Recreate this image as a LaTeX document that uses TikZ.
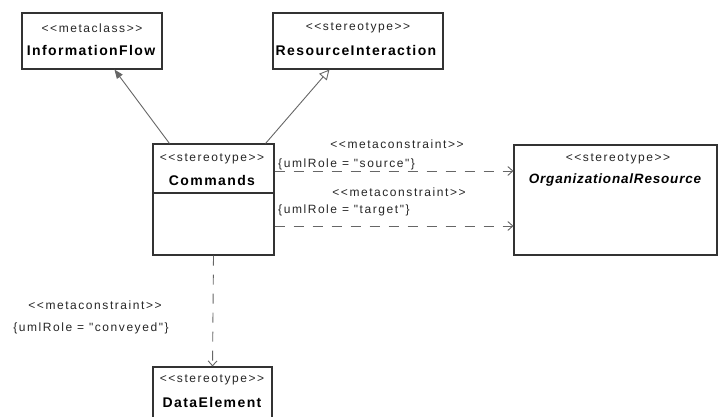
\documentclass[tikz,border=0pt]{standalone}
\usepackage{fontspec}
\setmainfont{Liberation Sans}
\newfontfamily\stfont[LetterSpace=13]{Liberation Sans}
\newfontfamily\nmfont[LetterSpace=10]{Liberation Sans}
\newfontfamily\itfont[LetterSpace=6]{Liberation Sans}
\usetikzlibrary{arrows.meta,calc}
\definecolor{boxline}{HTML}{333333}
\definecolor{conn}{HTML}{666666}
\tikzset{
  umlbox/.style={draw=boxline, line width=1.1pt, fill=white, inner sep=0pt},
  stlabel/.style={font=\stfont\fontsize{12}{13}\selectfont, inner sep=0pt, text=black!85},
  nmlabel/.style={font=\nmfont\bfseries\fontsize{14}{15}\selectfont, inner sep=0pt},
  nmital/.style={font=\itfont\bfseries\itshape\fontsize{13.5}{15}\selectfont, inner sep=0pt},
  gen/.style={draw=conn, line width=0.9pt},
  dep/.style={draw=conn, line width=0.9pt, dash pattern=on 10pt off 9pt, -{Straight Barb[length=5pt,width=9pt]}},
}
\begin{document}
\begin{tikzpicture}[x=1pt,y=-1pt]
\useasboundingbox (0,0) rectangle (718,417);
% boxes
\node[umlbox, minimum width=140pt, minimum height=56pt] (iflow) at (92,41) {};
\node[stlabel] (iflowst) at (92,28) {<<metaclass>>};
\node[nmlabel] (iflownm) at (91,50) {InformationFlow};

\node[umlbox, minimum width=170pt, minimum height=56pt] (rint) at (358,41) {};
\node[stlabel] (rintst) at (358,28) {<<stereotype>>};
\node[nmlabel] (rintnm) at (356,50) {ResourceInteraction};

\node[umlbox, minimum width=121pt, minimum height=111pt] (cmd) at (213.5,199.5) {};
\draw[draw=boxline, line width=1.1pt] (cmd.west |- 0,193) coordinate (sepl) -- (cmd.east |- 0,193) coordinate (sepr);
\node[stlabel] (cmdst) at (212,159) {<<stereotype>>};
\node[nmlabel] (cmdnm) at (212,180) {Commands};

\node[umlbox, minimum width=203pt, minimum height=110pt] (org) at (615.5,200) {};
\node[stlabel] (orgst) at (618,159) {<<stereotype>>};
\node[nmital] (orgnm) at (615,180) {OrganizationalResource};

\node[umlbox, minimum width=119pt, minimum height=70pt] (data) at (212.5,402) {};
\node[stlabel] (datast) at (212,380) {<<stereotype>>};
\node[nmlabel] (datanm) at (212,402) {DataElement};

% generalizations / extension
\draw[gen, -{Triangle[length=9pt,width=7pt,fill=conn]}] ($(cmd.north west)+(17,0)$) -- ($(iflow.south west)+(93,0)$);
\draw[gen, -{Triangle[open,length=10pt,width=10pt,fill=white]}] ($(cmd.north east)+(-9,0)$) -- ($(rint.south west)+(57,0)$);

% dependencies
\draw[dep] (cmd.east |- 0,171) -- (org.west |- 0,171);
\draw[dep] (cmd.east |- 0,226) -- (org.west |- 0,226);
\draw[dep] (cmd.south) -- (data.north);

% labels
\node[stlabel] (mc1) at (397,144) {<<metaconstraint>>};
\node[stlabel, anchor=west] (src) at (278,164) {\{umlRole = "source"\}};
\node[stlabel] (mc2) at (399,192) {<<metaconstraint>>};
\node[stlabel, anchor=west] (tgt) at (278,210) {\{umlRole = "target"\}};
\node[stlabel] (mc3) at (95,305) {<<metaconstraint>>};
\node[stlabel] (cnv) at (91,328) {\{umlRole = "conveyed"\}};
\end{tikzpicture}
\end{document}
